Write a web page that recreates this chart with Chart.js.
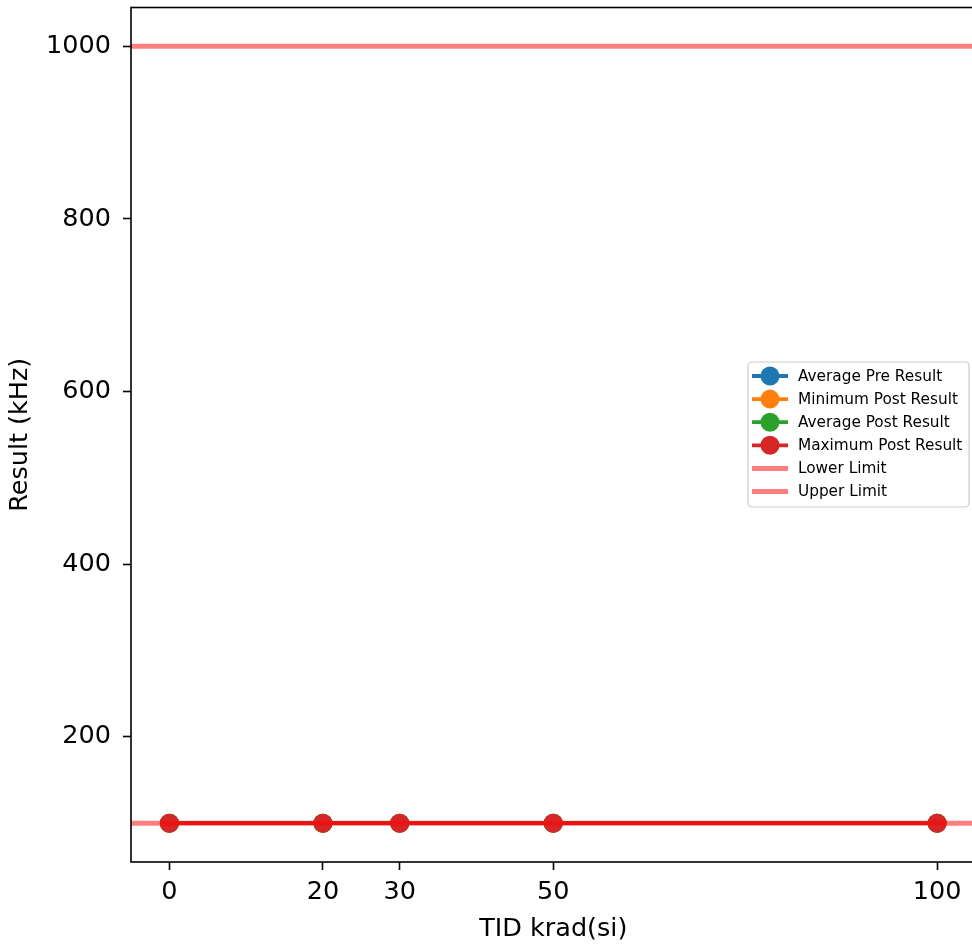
<!DOCTYPE html>
<html><head><meta charset="utf-8">
<script src="https://cdn.jsdelivr.net/npm/chart.js@4/dist/chart.umd.min.js"></script>
<style>html,body{margin:0;padding:0;overflow:hidden;background:#fff;width:972px;height:952px}canvas{display:block;margin-top:-2px}</style>
</head><body><canvas id="c" width="985" height="954"></canvas>
<script>
// ---- data ----
const doses = [0, 20, 30, 50, 100];
const avgPre = [100, 100, 100, 100, 100];
const minPost = [100, 100, 100, 100, 100];
const avgPost = [100, 100, 100, 100, 100];
const maxPost = [100, 100, 100, 100, 100];
const lowerLimit = 100;
const upperLimit = 1000;
const xTicks = [0, 20, 30, 50, 100];
const yTicks = [200, 400, 600, 800, 1000];
const xRange = [-5, 105];
const yRange = [55, 1045];
const seriesNames = ['Average Pre Result', 'Minimum Post Result', 'Average Post Result', 'Maximum Post Result', 'Lower Limit', 'Upper Limit'];
// ---- styles ----
const FONT = 'DejaVu Sans';
const colors = ['#1f77b4', '#ff7f0e', '#2ca02c', '#d62728'];
const limitColor = 'rgba(255,0,0,0.5)';

function pts(ys) { return doses.map((x, i) => ({x, y: ys[i]})); }
function series(i, ys) {
  return {label: seriesNames[i], data: pts(ys), borderColor: colors[i], backgroundColor: colors[i],
    borderWidth: 3.8, pointRadius: 9.5, pointBorderWidth: 0, pointHoverRadius: 9.5, order: 10 - i, isMarker: true};
}
function limit(i, v, ord) {
  return {label: seriesNames[i], data: [{x: xRange[0], y: v}, {x: xRange[1], y: v}], borderColor: limitColor,
    backgroundColor: limitColor, borderWidth: 5, pointRadius: 0, order: ord, isMarker: false};
}

const framePlugin = {
  id: 'frame',
  afterDatasetsDraw(chart) {
    const {ctx, chartArea: a} = chart;
    ctx.save();
    ctx.strokeStyle = '#000'; ctx.lineWidth = 1.6;
    ctx.strokeRect(a.left, a.top, a.right - a.left, a.bottom - a.top);
    ctx.restore();
  }
};
const legendPlugin = {
  id: 'mlegend',
  afterDraw(chart) {
    const {ctx} = chart;
    const off = 2; // canvas is shifted up by 2px
    const x0 = 748, y0 = 362 + off, w = 221, h = 145, r = 4;
    ctx.save();
    ctx.beginPath();
    ctx.roundRect(x0, y0, w, h, r);
    ctx.fillStyle = 'rgba(255,255,255,0.8)'; ctx.fill();
    ctx.strokeStyle = '#cccccc'; ctx.lineWidth = 1.2; ctx.stroke();
    ctx.font = '15.3px "' + FONT + '"';
    ctx.textBaseline = 'middle';
    chart.data.datasets.forEach((ds, i) => {
      const y = 376 + off + i * 23.1;
      ctx.beginPath();
      ctx.moveTo(752, y); ctx.lineTo(788, y);
      ctx.strokeStyle = ds.borderColor; ctx.lineWidth = ds.borderWidth; ctx.stroke();
      if (ds.isMarker) {
        ctx.beginPath(); ctx.arc(770, y, 9.5, 0, Math.PI * 2);
        ctx.fillStyle = ds.backgroundColor; ctx.fill();
      }
      ctx.fillStyle = '#000';
      ctx.fillText(ds.label, 798, y + 1);
    });
    ctx.restore();
  }
};

new Chart(document.getElementById('c'), {
  type: 'line',
  data: {
    datasets: [
      series(0, avgPre), series(1, minPost), series(2, avgPost), series(3, maxPost),
      limit(4, lowerLimit, 1), limit(5, upperLimit, 0)
    ]
  },
  options: {
    responsive: false, animation: false,
    layout: {padding: {left: 0, right: 0, top: 6, bottom: 0}},
    plugins: {legend: {display: false}, tooltip: {enabled: false}},
    scales: {
      x: {
        type: 'linear', min: xRange[0], max: xRange[1],
        afterBuildTicks: s => { s.ticks = xTicks.map(v => ({value: v})); },
        afterFit: s => { s.height = 90; s.paddingLeft = 0; s.paddingRight = 0; },
        grid: {drawOnChartArea: false, drawTicks: true, tickLength: 8, tickColor: '#000', tickWidth: 1.6},
        border: {display: false},
        ticks: {color: '#000', font: {family: FONT, size: 25.5}, padding: 7, maxRotation: 0, autoSkip: false},
        title: {display: true, text: 'TID krad(si)', color: '#000', font: {family: FONT, size: 25.5, lineHeight: 1.2}, padding: {top: 0, bottom: 7}}
      },
      y: {
        type: 'linear', min: yRange[0], max: yRange[1],
        afterBuildTicks: s => { s.ticks = yTicks.map(v => ({value: v})); },
        afterFit: s => { s.width = 131; s.paddingTop = 0; s.paddingBottom = 0; },
        grid: {drawOnChartArea: false, drawTicks: true, tickLength: 8, tickColor: '#000', tickWidth: 1.6},
        border: {display: false},
        ticks: {color: '#000', font: {family: FONT, size: 25.5}, padding: 12, callback: v => String(v)},
        title: {display: true, text: 'Result (kHz)', color: '#000', font: {family: FONT, size: 25.5, lineHeight: 1.2}, padding: {top: 5, bottom: 0}}
      }
    }
  },
  plugins: [framePlugin, legendPlugin]
});
</script></body></html>
